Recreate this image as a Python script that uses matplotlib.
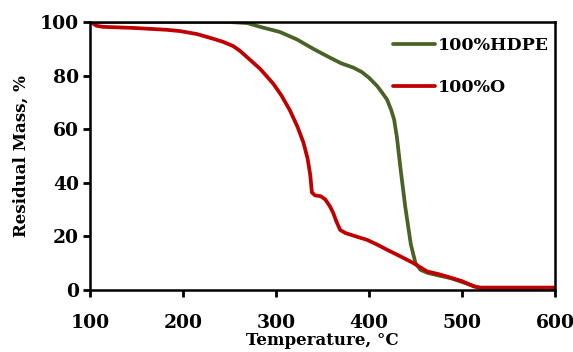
import matplotlib
matplotlib.use("Agg")
import matplotlib.pyplot as plt

# - Data - #
hdpe_T = [100, 200, 250, 269, 285, 304, 322.5, 340, 358, 370, 383, 392, 400, 409,
          414, 419.5, 424, 427, 430, 434, 439, 445, 450, 455.5, 463, 475, 488, 500,
          510, 520, 528, 600]
hdpe_M = [100, 100, 100, 99.6, 98, 96.3, 93.5, 90, 86.7, 84.6, 83, 81.4, 79.2, 76,
          73.7, 71, 67, 63.6, 57, 45, 31, 17, 10, 7.5, 6.4, 5.4, 4.4, 3, 1.8, 0.6,
          0, 0]

o_T = [100, 103, 107, 113.5, 146, 182, 197, 215, 232, 243, 254, 261, 268.5, 283, 297,
       306, 315, 323, 329.5, 334, 336.8, 338.6, 342, 348, 353, 358, 361.6, 365, 369,
       375, 385, 398, 409, 419.5, 434, 448, 455.5, 462.7, 475, 484, 500, 513, 520, 600]
o_M = [100, 99.5, 98.6, 98.2, 97.8, 97.1, 96.6, 95.5, 93.8, 92.6, 91, 89.3, 87, 82.5,
       77, 72.5, 67, 61, 55, 49, 43, 36.4, 35.3, 35, 33.8, 31.2, 28.7, 25.5, 22.4,
       21.2, 20.1, 18.7, 16.9, 15, 12.5, 10, 8.4, 6.9, 5.9, 5, 3.3, 1.3, 0.9, 0.9]

labels = ["100%HDPE", "100%O"]
colors = ["#4A6226", "#C00000"]

plt.rcParams['font.family'] = ['DejaVu Serif']
plt.rcParams['font.weight'] = 'bold'

# - Figure and Axes - #
fig = plt.figure(figsize=(5.73, 3.52), dpi=100)
ax = fig.add_axes([90/573, 1 - 290/352, 465/573, 268/352])

ax.plot(hdpe_T, hdpe_M, color=colors[0], lw=2.7, label=labels[0], solid_capstyle='round')
ax.plot(o_T, o_M, color=colors[1], lw=2.7, label=labels[1], solid_capstyle='round')

ax.set_xlim(100, 600); ax.set_ylim(0, 100)
ax.set_xticks(range(100, 601, 100)); ax.set_yticks(range(0, 101, 20))
ax.tick_params(direction='out', length=5, width=2, labelsize=13.5)
ax.tick_params(axis='x', pad=12)
ax.tick_params(axis='y', pad=3)
for s in ax.spines.values():
    s.set_linewidth(1.8)

ax.set_xlabel("Temperature, °C", fontsize=12, fontweight='bold', labelpad=0)
ax.set_ylabel("Residual Mass, %", fontsize=12, fontweight='bold', labelpad=7)

leg = ax.legend(loc='upper right', frameon=False, fontsize=12.5, handlelength=2.4,
                handletextpad=0.15, labelspacing=1.4, borderaxespad=0.1,
                bbox_to_anchor=(1.005, 0.975))

fig.savefig("out.png", dpi=100)
